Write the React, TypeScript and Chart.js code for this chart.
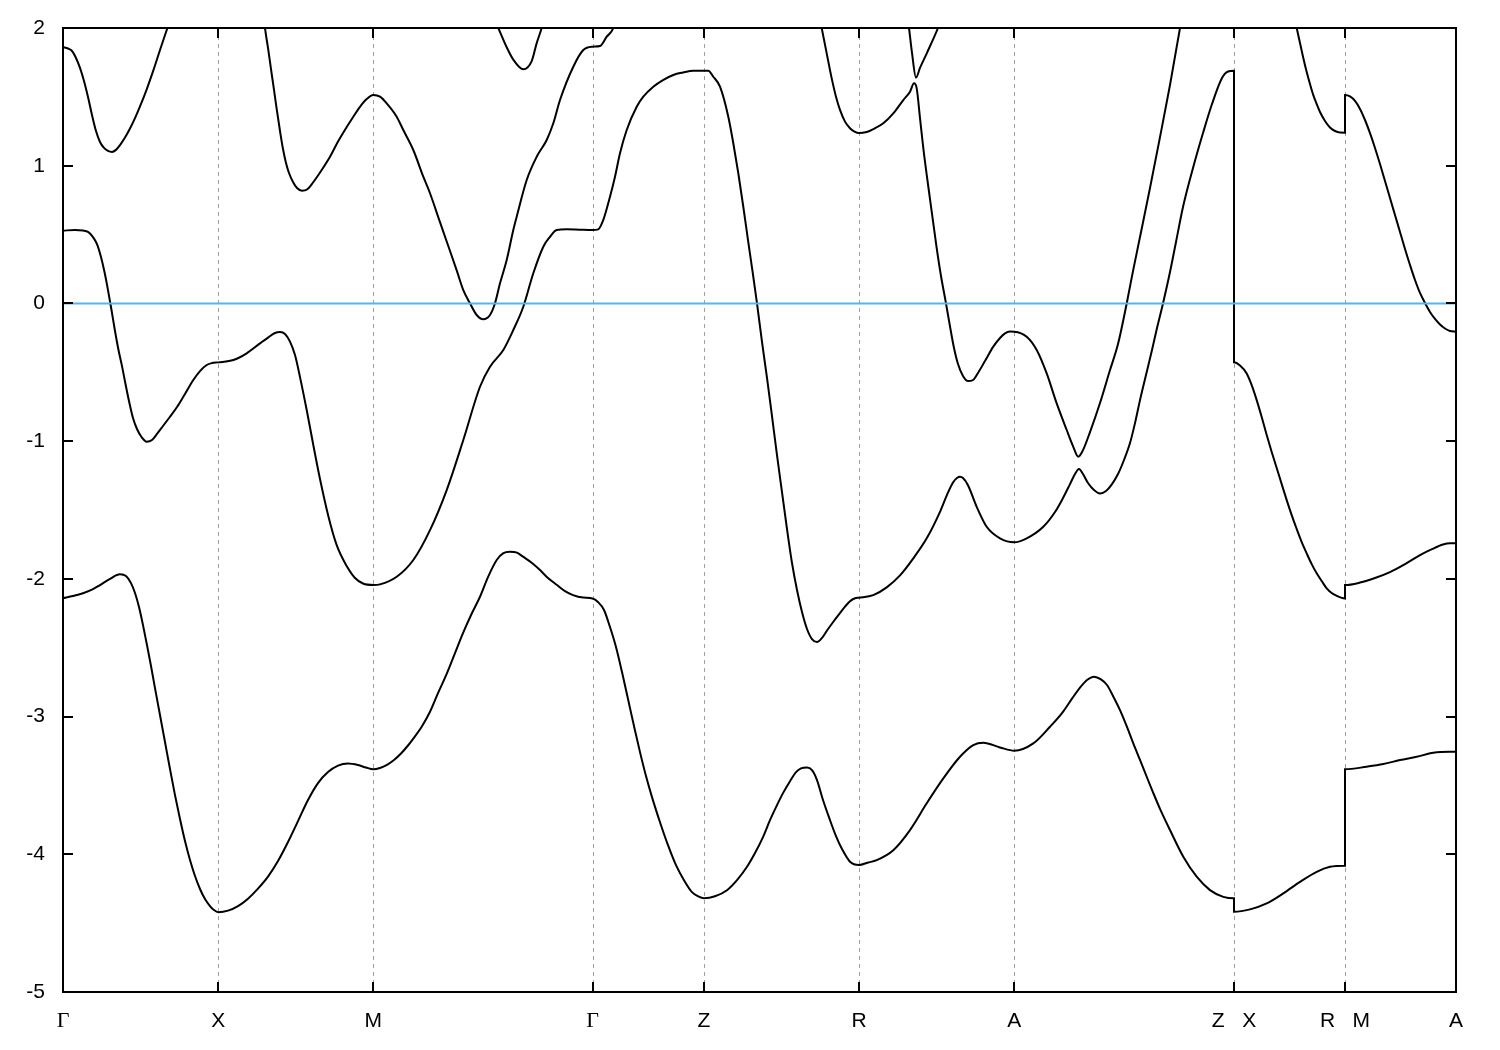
import React, { useEffect, useRef } from 'react';
import { Chart, registerables } from 'chart.js';

Chart.register(...registerables);

// k-path positions of high-symmetry points and their labels
const kPositions = [0, 1.553, 3.103, 5.295, 6.41, 7.96, 9.513, 11.71, 12.82, 13.93];
const kLabels = ['Γ', 'X', 'M', 'Γ', 'Z', 'R', 'A', 'Z   X', 'R   M', 'A'];
const energyTicks = [-5, -4, -3, -2, -1, 0, 1, 2];
const energyMin = -5;
const energyMax = 2;

// bands: [k, E] pairs
const band1: [number, number][] = [
  [0, -2.14], [0.1, -2.125], [0.2, -2.105], [0.3, -2.075], [0.37, -2.045], [0.47, -2.0], [0.57, -1.967],
  [0.63, -1.98], [0.68, -2.031], [0.72, -2.103], [0.76, -2.205], [0.8, -2.336], [0.84, -2.481], [0.88, -2.633],
  [0.92, -2.793], [0.97, -2.989], [1.02, -3.185], [1.07, -3.381], [1.12, -3.57], [1.17, -3.744], [1.22, -3.904],
  [1.27, -4.042], [1.32, -4.158], [1.37, -4.252], [1.42, -4.325], [1.47, -4.376], [1.51, -4.405], [1.553, -4.42],
  [1.65, -4.409], [1.75, -4.376], [1.85, -4.322], [1.95, -4.249], [2.05, -4.162], [2.15, -4.049], [2.25, -3.911],
  [2.35, -3.759], [2.45, -3.606], [2.55, -3.483], [2.65, -3.403], [2.75, -3.356], [2.85, -3.341], [2.95, -3.352],
  [3.03, -3.37], [3.103, -3.383], [3.17, -3.373], [3.24, -3.35], [3.31, -3.315], [3.38, -3.268], [3.45, -3.21],
  [3.503, -3.16], [3.59, -3.07], [3.67, -2.965], [3.75, -2.83], [3.84, -2.684], [3.92, -2.539], [4.0, -2.394],
  [4.09, -2.248], [4.17, -2.13], [4.25, -1.987], [4.337, -1.863], [4.4, -1.815], [4.47, -1.803], [4.54, -1.81],
  [4.6, -1.839], [4.69, -1.885], [4.77, -1.936], [4.85, -1.994], [4.94, -2.045], [5.02, -2.089], [5.1, -2.118],
  [5.2, -2.136], [5.295, -2.142], [5.35, -2.168], [5.41, -2.226], [5.47, -2.35], [5.53, -2.495], [5.59, -2.677],
  [5.65, -2.873], [5.71, -3.069], [5.77, -3.258], [5.83, -3.432], [5.89, -3.585], [5.97, -3.767], [6.05, -3.934],
  [6.13, -4.079], [6.21, -4.188], [6.29, -4.275], [6.35, -4.304], [6.41, -4.319], [6.52, -4.305], [6.64, -4.261],
  [6.74, -4.188], [6.84, -4.091], [6.92, -3.991], [7.0, -3.875], [7.07, -3.752], [7.14, -3.643], [7.2, -3.556],
  [7.27, -3.469], [7.33, -3.403], [7.38, -3.376], [7.44, -3.369], [7.49, -3.389], [7.54, -3.461], [7.6, -3.606],
  [7.67, -3.752], [7.73, -3.868], [7.79, -3.962], [7.87, -4.054], [7.96, -4.078], [8.05, -4.06], [8.137, -4.042],
  [8.303, -3.97], [8.47, -3.824], [8.637, -3.63], [8.803, -3.449], [8.97, -3.292], [9.103, -3.207], [9.203, -3.19],
  [9.37, -3.224], [9.513, -3.248], [9.703, -3.195], [9.87, -3.074], [9.99, -2.975], [10.09, -2.87], [10.17, -2.79],
  [10.24, -2.735], [10.31, -2.71], [10.38, -2.73], [10.44, -2.771], [10.5, -2.85], [10.57, -2.953], [10.64, -3.075],
  [10.703, -3.195], [10.77, -3.315], [10.837, -3.437], [10.9, -3.55], [10.97, -3.67], [11.07, -3.824],
  [11.203, -4.018], [11.337, -4.163], [11.47, -4.26], [11.603, -4.309], [11.71, -4.32], [11.71, -4.417],
  [11.87, -4.4], [12.037, -4.357], [12.203, -4.284], [12.37, -4.2], [12.537, -4.127], [12.67, -4.091],
  [12.82, -4.083], [12.82, -3.383], [13.037, -3.364], [13.203, -3.345], [13.37, -3.316], [13.537, -3.292],
  [13.703, -3.263], [13.87, -3.256], [13.93, -3.256],
];

const band2: [number, number][] = [
  [0, 0.528], [0.12, 0.534], [0.2, 0.529], [0.25, 0.519], [0.3, 0.482], [0.34, 0.431], [0.38, 0.337],
  [0.415, 0.228], [0.45, 0.097], [0.485, -0.048], [0.52, -0.2], [0.555, -0.338], [0.59, -0.455], [0.625, -0.585],
  [0.66, -0.709], [0.7, -0.832], [0.74, -0.912], [0.785, -0.97], [0.837, -1.004], [0.89, -0.992], [0.94, -0.948],
  [1.0, -0.89], [1.07, -0.823], [1.14, -0.752], [1.203, -0.678], [1.303, -0.556], [1.37, -0.491], [1.437, -0.447],
  [1.49, -0.433], [1.553, -0.428], [1.703, -0.411], [1.837, -0.362], [1.97, -0.29], [2.05, -0.248], [2.12, -0.215],
  [2.17, -0.208], [2.22, -0.222], [2.27, -0.277], [2.32, -0.375], [2.37, -0.535], [2.437, -0.774], [2.503, -1.028],
  [2.57, -1.275], [2.653, -1.543], [2.737, -1.755], [2.837, -1.907], [2.92, -1.994], [3.0, -2.034], [3.103, -2.045],
  [3.17, -2.04], [3.337, -1.985], [3.503, -1.863], [3.67, -1.646], [3.837, -1.355], [4.003, -0.992], [4.17, -0.605],
  [4.27, -0.46], [4.403, -0.338], [4.503, -0.193], [4.603, -0.024], [4.703, 0.219], [4.803, 0.412], [4.87, 0.484],
  [4.937, 0.533], [5.037, 0.538], [5.17, 0.535], [5.295, 0.533], [5.353, 0.538], [5.403, 0.606], [5.47, 0.775],
  [5.52, 0.92], [5.57, 1.09], [5.637, 1.259], [5.737, 1.428], [5.803, 1.501], [5.903, 1.574], [6.0, 1.622],
  [6.103, 1.659], [6.2, 1.677], [6.303, 1.69], [6.41, 1.69], [6.453, 1.69], [6.503, 1.646], [6.57, 1.574],
  [6.653, 1.356], [6.703, 1.163], [6.753, 0.945], [6.803, 0.702], [6.85, 0.46], [6.895, 0.235], [6.94, 0.0],
  [6.99, -0.28], [7.04, -0.541], [7.09, -0.818], [7.14, -1.101], [7.19, -1.37], [7.24, -1.638], [7.29, -1.885],
  [7.34, -2.081], [7.39, -2.241], [7.44, -2.364], [7.49, -2.437], [7.54, -2.458], [7.59, -2.429], [7.64, -2.375],
  [7.7, -2.315], [7.76, -2.258], [7.82, -2.202], [7.87, -2.162], [7.92, -2.141], [7.96, -2.137], [8.103, -2.118],
  [8.237, -2.062], [8.37, -1.975], [8.503, -1.851], [8.637, -1.706], [8.77, -1.513], [8.84, -1.39], [8.9, -1.3],
  [8.94, -1.268], [8.97, -1.259], [9.0, -1.268], [9.05, -1.32], [9.137, -1.477], [9.237, -1.622], [9.37, -1.706],
  [9.513, -1.735], [9.637, -1.706], [9.803, -1.622], [9.92, -1.515], [10.0, -1.413], [10.07, -1.312],
  [10.12, -1.239], [10.16, -1.203], [10.2, -1.239], [10.25, -1.304], [10.31, -1.355], [10.37, -1.38],
  [10.43, -1.362], [10.49, -1.312], [10.55, -1.239], [10.61, -1.137], [10.67, -1.014], [10.72, -0.869],
  [10.77, -0.702], [10.83, -0.52], [10.89, -0.338], [10.94, -0.179], [11.0, 0.0], [11.07, 0.228], [11.13, 0.446],
  [11.2, 0.7], [11.3, 0.983], [11.4, 1.237], [11.49, 1.448], [11.59, 1.637], [11.65, 1.684], [11.71, 1.69],
  [11.71, -0.428], [11.77, -0.451], [11.837, -0.508], [11.887, -0.593], [11.937, -0.702], [11.987, -0.825],
  [12.037, -0.956], [12.087, -1.079], [12.137, -1.195], [12.187, -1.312], [12.237, -1.428], [12.287, -1.537],
  [12.337, -1.638], [12.387, -1.733], [12.437, -1.815], [12.487, -1.893], [12.537, -1.96], [12.587, -2.016],
  [12.637, -2.069], [12.687, -2.103], [12.737, -2.123], [12.78, -2.136], [12.82, -2.142], [12.82, -2.045],
  [12.97, -2.027], [13.12, -1.994], [13.27, -1.951], [13.42, -1.893], [13.57, -1.827], [13.69, -1.784],
  [13.8, -1.751], [13.87, -1.742], [13.93, -1.742],
];

const band3: [number, number][] = [
  [0, 1.862], [0.05, 1.851], [0.09, 1.833], [0.13, 1.782], [0.17, 1.71], [0.21, 1.615], [0.25, 1.499],
  [0.29, 1.368], [0.33, 1.252], [0.37, 1.172], [0.41, 1.129], [0.45, 1.107], [0.49, 1.1], [0.53, 1.115],
  [0.57, 1.15], [0.62, 1.205], [0.67, 1.27], [0.72, 1.345], [0.77, 1.43], [0.837, 1.555], [0.9, 1.685],
  [0.97, 1.84], [1.037, 1.985], [1.1, 2.12], [1.25, 2.45], [1.553, 2.7], [1.8, 2.55], [1.9, 2.45], [1.99, 2.2],
  [2.02, 2.0], [2.05, 1.855], [2.08, 1.702], [2.11, 1.55], [2.14, 1.397], [2.17, 1.252], [2.2, 1.121],
  [2.23, 1.02], [2.26, 0.947], [2.3, 0.882], [2.34, 0.838], [2.39, 0.818], [2.44, 0.827], [2.5, 0.878],
  [2.587, 0.969], [2.67, 1.065], [2.753, 1.179], [2.837, 1.281], [2.903, 1.356], [2.97, 1.428], [3.037, 1.484],
  [3.103, 1.513], [3.17, 1.501], [3.237, 1.453], [3.337, 1.356], [3.403, 1.259], [3.503, 1.114], [3.603, 0.92],
  [3.67, 0.8], [3.77, 0.59], [3.837, 0.45], [3.937, 0.24], [4.003, 0.097], [4.07, 0.001], [4.137, -0.084],
  [4.203, -0.115], [4.27, -0.084], [4.32, 0.001], [4.37, 0.146], [4.437, 0.315], [4.503, 0.533], [4.537, 0.63],
  [4.637, 0.896], [4.737, 1.065], [4.837, 1.187], [4.903, 1.308], [4.97, 1.477], [5.103, 1.719], [5.203, 1.84],
  [5.295, 1.864], [5.37, 1.869], [5.437, 1.937], [5.503, 2.0], [5.57, 2.2], [5.9, 2.6], [6.41, 2.8], [7.0, 2.75],
  [7.4, 2.5], [7.52, 2.25], [7.587, 2.0], [7.637, 1.816], [7.687, 1.634], [7.73, 1.501], [7.77, 1.405],
  [7.82, 1.32], [7.87, 1.272], [7.92, 1.245], [7.96, 1.237], [8.037, 1.245], [8.12, 1.272], [8.203, 1.308],
  [8.303, 1.38], [8.403, 1.477], [8.47, 1.537], [8.51, 1.598], [8.537, 1.562], [8.57, 1.346], [8.603, 1.128],
  [8.67, 0.758], [8.737, 0.402], [8.78, 0.199], [8.83, 0.0], [8.87, -0.167], [8.91, -0.324], [8.95, -0.44],
  [9.0, -0.527], [9.05, -0.564], [9.1, -0.556], [9.15, -0.505], [9.22, -0.418], [9.303, -0.314], [9.37, -0.251],
  [9.42, -0.217], [9.47, -0.204], [9.513, -0.205], [9.637, -0.242], [9.737, -0.338], [9.837, -0.508],
  [9.937, -0.726], [10.037, -0.919], [10.103, -1.041], [10.153, -1.113], [10.2, -1.065], [10.27, -0.934],
  [10.37, -0.723], [10.47, -0.484], [10.55, -0.295], [10.637, 0.0], [10.7, 0.235], [10.77, 0.482], [10.87, 0.838],
  [10.97, 1.208], [11.07, 1.586], [11.17, 2.0], [11.25, 2.35], [11.45, 2.85], [11.71, 3.0], [11.71, 2.7],
  [12.0, 2.75], [12.17, 2.5], [12.27, 2.22], [12.337, 2.0], [12.37, 1.891], [12.403, 1.782], [12.437, 1.68],
  [12.47, 1.593], [12.503, 1.513], [12.537, 1.448], [12.57, 1.39], [12.62, 1.325], [12.67, 1.277], [12.72, 1.252],
  [12.77, 1.241], [12.82, 1.24], [12.82, 1.513], [12.87, 1.503], [12.92, 1.47], [12.97, 1.412], [13.02, 1.332],
  [13.07, 1.237], [13.12, 1.129], [13.17, 1.012], [13.22, 0.889], [13.27, 0.765], [13.32, 0.642], [13.37, 0.519],
  [13.42, 0.395], [13.47, 0.279], [13.52, 0.17], [13.57, 0.076], [13.62, 0.003], [13.67, -0.062], [13.72, -0.113],
  [13.77, -0.153], [13.82, -0.182], [13.87, -0.2], [13.93, -0.205],
];

const band4: [number, number][] = [
  [0, 2.6], [1.553, 2.9], [3.103, 2.7], [4.1, 2.45], [4.25, 2.17], [4.353, 2.0], [4.437, 1.86], [4.503, 1.77],
  [4.603, 1.7], [4.687, 1.76], [4.737, 1.89], [4.787, 2.0], [4.9, 2.3], [5.295, 2.6], [6.41, 3.0], [7.96, 2.9],
  [8.3, 2.55], [8.4, 2.31], [8.46, 2.0], [8.49, 1.82], [8.53, 1.64], [8.57, 1.71], [8.64, 1.82], [8.75, 2.0],
  [8.9, 2.3], [9.513, 2.8], [11.71, 3.0], [11.71, 2.9], [12.82, 2.8], [12.82, 2.7], [13.93, 2.8],
];

const fermiLevel: [number, number][] = [[0, 0], [13.93, 0]];

const bands = [band1, band2, band3, band4];

const toPoints = (arr: [number, number][]) => arr.map(([x, y]) => ({ x, y }));

const framePlugin = {
  id: 'gnuplotFrame',
  beforeDatasetsDraw(chart: any) {
    const { ctx, chartArea, scales } = chart;
    const { top, bottom } = chartArea;
    ctx.save();
    ctx.strokeStyle = '#a0a0a0';
    ctx.lineWidth = 1;
    ctx.setLineDash([4, 4]);
    kPositions.slice(1, -1).forEach((v) => {
      const px = Math.round(scales.x.getPixelForValue(v)) + 0.5;
      ctx.beginPath();
      ctx.moveTo(px, top);
      ctx.lineTo(px, bottom);
      ctx.stroke();
    });
    ctx.restore();
  },
  afterDatasetsDraw(chart: any) {
    const { ctx, chartArea, scales } = chart;
    const { left, right, top, bottom } = chartArea;
    ctx.save();
    ctx.strokeStyle = '#000';
    ctx.lineWidth = 2;
    ctx.setLineDash([]);
    ctx.strokeRect(left, top, right - left, bottom - top);
    const tick = 10;
    ctx.beginPath();
    energyTicks.forEach((v) => {
      const py = Math.round(scales.y.getPixelForValue(v));
      ctx.moveTo(left, py);
      ctx.lineTo(left + tick, py);
      ctx.moveTo(right, py);
      ctx.lineTo(right - tick, py);
    });
    kPositions.forEach((v) => {
      const px = Math.round(scales.x.getPixelForValue(v));
      ctx.moveTo(px, bottom);
      ctx.lineTo(px, bottom - tick);
      ctx.moveTo(px, top);
      ctx.lineTo(px, top + tick);
    });
    ctx.stroke();
    ctx.restore();
  },
};

export default function App() {
  const ref = useRef<HTMLCanvasElement>(null);

  useEffect(() => {
    const canvas = ref.current;
    if (!canvas) return;
    const chart = new Chart(canvas, {
      type: 'line',
      data: {
        datasets: [
          {
            data: toPoints(fermiLevel),
            borderColor: '#56b4e9',
            borderWidth: 2,
            pointRadius: 0,
            tension: 0,
            clip: 0,
          } as any,
          ...bands.map((b) => ({
            data: toPoints(b),
            borderColor: '#000000',
            borderWidth: 2,
            pointRadius: 0,
            cubicInterpolationMode: 'monotone',
            clip: 0,
          })),
        ],
      },
      options: {
        animation: false,
        responsive: false,
        maintainAspectRatio: false,
        devicePixelRatio: 1,
        events: [],
        layout: { padding: { top: 28, right: 44, bottom: 0, left: 0 } },
        plugins: { legend: { display: false }, tooltip: { enabled: false } },
        scales: {
          x: {
            type: 'linear',
            min: kPositions[0],
            max: kPositions[kPositions.length - 1],
            grid: { display: false, drawTicks: false },
            border: { display: false },
            afterBuildTicks: (s: any) => {
              s.ticks = kPositions.map((v) => ({ value: v }));
            },
            afterFit: (s: any) => {
              s.height = 58;
              s.paddingLeft = 0;
              s.paddingRight = 0;
            },
            ticks: {
              autoSkip: false,
              maxRotation: 0,
              minRotation: 0,
              padding: 17,
              color: '#000',
              callback: (_v: any, i: number) => kLabels[i],
              font: (c: any) =>
                kLabels[c.index] === 'Γ'
                  ? { family: 'Liberation Serif', size: 22, lineHeight: 1.145 }
                  : { family: 'Liberation Sans', size: 21, lineHeight: 1.2 },
            },
          },
          y: {
            type: 'linear',
            min: energyMin,
            max: energyMax,
            grid: { display: false, drawTicks: false },
            border: { display: false },
            afterBuildTicks: (s: any) => {
              s.ticks = energyTicks.map((v) => ({ value: v }));
            },
            afterFit: (s: any) => {
              s.width = 63;
              s.paddingTop = 0;
              s.paddingBottom = 0;
            },
            ticks: {
              padding: 18,
              color: '#000',
              font: { family: 'Liberation Sans', size: 21 },
              callback: (v: any) => String(v),
            },
          },
        },
      } as any,
      plugins: [framePlugin],
    });
    return () => chart.destroy();
  }, []);

  return (
    <div style={{ position: 'absolute', left: 0, top: 0, width: 1500, height: 1050, background: '#fff' }}>
      <canvas ref={ref} width={1500} height={1050} style={{ display: 'block', width: 1500, height: 1050 }} />
    </div>
  );
}
